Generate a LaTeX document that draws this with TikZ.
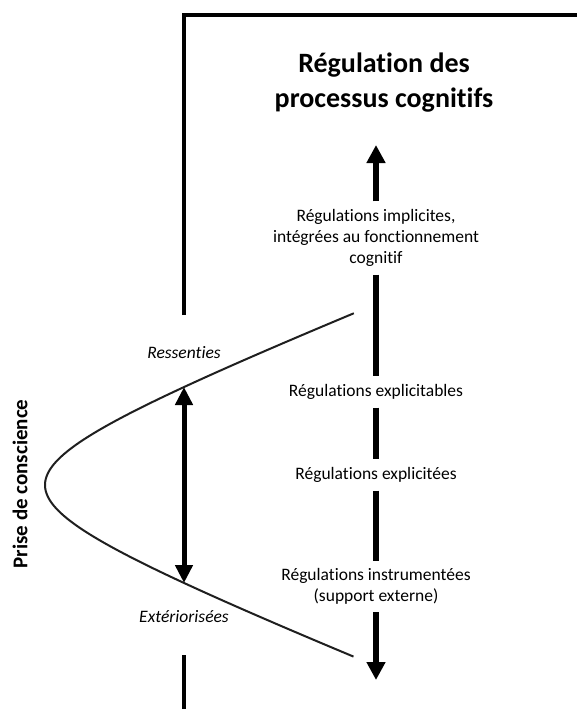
\documentclass[tikz,border=0pt]{standalone}
\usepackage{fontspec}
\setmainfont{Carlito}[Ligatures=CommonOff]
\usetikzlibrary{arrows.meta}
\begin{document}
\begin{tikzpicture}[x=1pt,y=-1pt,
  frame/.style={line width=4pt, line cap=butt, line join=miter, black},
  shaft/.style={line width=5.5pt, black},
  curveline/.style={line width=2pt, black!88},
  colnode/.style={font=\fontsize{17.5}{21}\selectfont, align=center, inner sep=0pt, outer xsep=0pt, outer ysep=8pt},
  sidelab/.style={font=\fontsize{17.5}{21}\selectfont\itshape, inner sep=0pt, anchor=base},
  titlenode/.style={font=\fontsize{28}{35}\selectfont\bfseries, align=center, inner sep=0pt},
  axislab/.style={font=\fontsize{21}{25}\selectfont\bfseries, inner sep=0pt, rotate=90},
  headtip/.style={-{Triangle[width=18pt,length=18pt]}},
  dbltip/.style={{Triangle[width=17pt,length=18pt]}-{Triangle[width=17pt,length=18pt]}}
]
\useasboundingbox (0,0) rectangle (577,709);

% frame
\coordinate (fbl) at (184,315);
\coordinate (ftl) at (184,15);
\coordinate (ftr) at (580,15);
\draw[frame] (fbl) -- (ftl) -- (ftr);
\coordinate (bsa) at (184,655);
\coordinate (bsb) at (184,712);
\draw[frame] (bsa) -- (bsb);

% title
\node[titlenode] (title) at (384,83) {Régulation des\\processus cognitifs};

% right column
\node[colnode] (implicit) at (376,238) {Régulations implicites,\\intégrées au fonctionnement\\cognitif};
\node[colnode] (explicitables) at (376,392) {Régulations explicitables};
\node[colnode] (explicitees) at (376,475) {Régulations explicitées};
\node[colnode] (instrumentees) at (376,586.5) {Régulations instrumentées\\(support externe)};
\coordinate (uptip) at (376,145);
\coordinate (downtip) at (376,680);

\draw[shaft, headtip] (implicit.north) -- (uptip);
\draw[shaft] (implicit.south) -- (explicitables.north);
\draw[shaft] (explicitables.south) -- (explicitees.north);
\draw[shaft] (explicitees.south) -- (instrumentees.north);
\draw[shaft, headtip] (instrumentees.south) -- (downtip);

% awareness curve
\draw[curveline] plot[domain=-1.774:1.774, samples=90, variable=\t, smooth]
  ({45+152*(cosh(\t)-1)}, {485+60*sinh(\t)});
\coordinate (rtop) at (184,387);
\coordinate (rbot) at (184,583);
\draw[line width=5pt, dbltip] (rtop) -- (rbot);

\node[sidelab] (ressenties) at (184,358) {Ressenties};
\node[sidelab] (exteriorisees) at (184,622) {Extériorisées};
\node[axislab] (prise) at (20,484) {Prise de conscience};
\end{tikzpicture}
\end{document}
